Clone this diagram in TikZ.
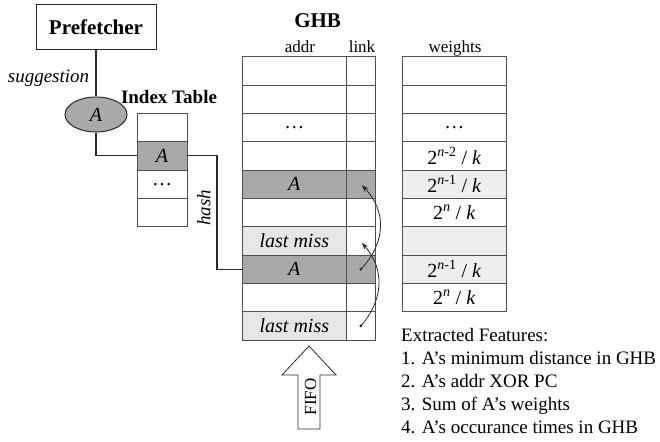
\documentclass[tikz,border=0pt]{standalone}
\usepackage{fontspec}
\setmainfont{Liberation Serif}
\usetikzlibrary{arrows.meta,shapes.geometric}
\definecolor{tabline}{HTML}{505050}
\definecolor{conline}{HTML}{2A2A2A}
\definecolor{darkcell}{HTML}{A9A9A9}
\definecolor{lightcell}{HTML}{E6E6E6}
\definecolor{wlightcell}{HTML}{EEEEEE}
\newcommand\myrowfont{\fontsize{20}{24}\selectfont}
\newcommand\mywfont{\fontsize{20}{24}\selectfont}
\newcommand\myhdfont{\fontsize{17}{20}\selectfont}
\newcommand\mytxtfont{\fontsize{19}{23}\selectfont}
\newcommand\mybigfont{\fontsize{21}{25}\selectfont\bfseries}
\newcommand\wfrac[1]{2\textsuperscript{#1}~/~\textit{k}}
\begin{document}
\begin{tikzpicture}[x=1pt,y=-1pt,
  cell/.style={draw=tabline, line width=0.9pt, minimum height=28.33pt, inner sep=0pt, outer sep=0pt, anchor=center},
  addrcell/.style={cell, minimum width=103.3pt, font=\myrowfont\itshape},
  linkcell/.style={cell, minimum width=29.7pt},
  wcell/.style={cell, minimum width=103.3pt, font=\mywfont},
  idxcell/.style={cell, minimum width=50pt, font=\myrowfont\itshape},
  dark/.style={fill=darkcell},
  light/.style={fill=lightcell},
  wlight/.style={fill=wlightcell},
  conn/.style={draw=conline, line width=1.1pt},
  linkarrow/.style={draw=conline, line width=0.8pt, -{Stealth[length=7pt,width=5pt]}},
  title/.style={font=\mybigfont, inner sep=0pt, anchor=base},
  hdr/.style={font=\myhdfont, inner sep=0pt, anchor=base},
]
\useasboundingbox (0,0) rectangle (660,441);

% Prefetcher and suggestion
\node[draw=conline, line width=1pt, minimum width=120pt, minimum height=45pt, inner sep=0pt, font=\mybigfont] (pref) at (96,27) {Prefetcher};
\node[font=\mytxtfont\itshape, inner sep=0pt, anchor=base] (sugglbl) at (48.5,83) {suggestion};
\node[ellipse, draw=conline, line width=1pt, fill=darkcell, minimum width=62pt, minimum height=35pt, inner sep=0pt, font=\myrowfont\itshape] (sugg) at (96,114.5) {A};

% Index table
\node[title, font=\fontsize{19}{23}\selectfont\bfseries] (idxtitle) at (169,103) {Index Table};
\node[idxcell] (idx1) at (162,127.51) {};
\node[idxcell, dark] (idx2) at (162,155.84) {A};
\node[idxcell, font=\myrowfont] (idx3) at (162,184.17) {\dots};
\node[idxcell] (idx4) at (162,212.50) {};

% GHB
\node[title] (ghbtitle) at (317.6,27.5) {GHB};
\node[hdr] (addrlbl) at (300,53) {addr};
\node[hdr] (linklbl) at (362,53) {link};
\node[hdr] (wlbl) at (455,53) {weights};

\node[addrcell] (a1) at (294.35,70.85) {};
\node[addrcell] (a2) at (294.35,99.18) {};
\node[addrcell, font=\myrowfont] (a3) at (294.35,127.51) {\dots};
\node[addrcell] (a4) at (294.35,155.84) {};
\node[addrcell, dark] (a5) at (294.35,184.17) {A};
\node[addrcell] (a6) at (294.35,212.50) {};
\node[addrcell, light] (a7) at (294.35,240.83) {last miss};
\node[addrcell, dark] (a8) at (294.35,269.16) {A};
\node[addrcell] (a9) at (294.35,297.49) {};
\node[addrcell, light] (a10) at (294.35,325.82) {last miss};

\node[linkcell] (l1) at (360.85,70.85) {};
\node[linkcell] (l2) at (360.85,99.18) {};
\node[linkcell] (l3) at (360.85,127.51) {};
\node[linkcell] (l4) at (360.85,155.84) {};
\node[linkcell, dark] (l5) at (360.85,184.17) {};
\node[linkcell] (l6) at (360.85,212.50) {};
\node[linkcell] (l7) at (360.85,240.83) {};
\node[linkcell, dark] (l8) at (360.85,269.16) {};
\node[linkcell] (l9) at (360.85,297.49) {};
\node[linkcell] (l10) at (360.85,325.82) {};

% weights
\node[wcell] (w1) at (454.35,70.85) {};
\node[wcell] (w2) at (454.35,99.18) {};
\node[wcell] (w3) at (454.35,127.51) {\dots};
\node[wcell] (w4) at (454.35,155.84) {\wfrac{\textit{n}-2}};
\node[wcell, wlight] (w5) at (454.35,184.17) {\wfrac{\textit{n}-1}};
\node[wcell] (w6) at (454.35,212.50) {\wfrac{\textit{n}}};
\node[wcell, wlight] (w7) at (454.35,240.83) {};
\node[wcell, wlight] (w8) at (454.35,269.16) {\wfrac{\textit{n}-1}};
\node[wcell] (w9) at (454.35,297.49) {\wfrac{\textit{n}}};

% connectors
\draw[conn] (pref.south) -- (sugg.north);
\draw[conn] (sugg.south) |- (idx2.west);
\coordinate (hashx) at (217,155.84);
\draw[conn] (idx2.east) -- (hashx) |- (a8.west);
\node[rotate=90, font=\mytxtfont\itshape, inner sep=0pt] (hashlbl) at (204,208) {hash};

% link arrows
\fill[conline] (l8.center) circle (1.6);
\draw[linkarrow] (l8.center) .. controls +(25,-26) and +(25,26) .. ([xshift=1pt,yshift=-1pt]l5.center);
\fill[conline] (l10.center) circle (1.6);
\draw[linkarrow] (l10.center) .. controls +(23,-26) and +(23,26) .. ([xshift=1pt,yshift=-2pt]l7.center);

% FIFO arrow
\draw[draw=conline, line width=0.8pt] (309,346) -- (336,375) -- (320,375) -- (320,429) -- (298,429) -- (298,375) -- (282,375) -- cycle;
\node[rotate=90, font=\fontsize{17}{20}\selectfont, inner sep=0pt] (fifo) at (310.5,397) {FIFO};

% features
\node[font=\mytxtfont, inner sep=0pt, anchor=base west] (f0) at (401,341) {Extracted Features:};
\node[font=\mytxtfont, inner sep=0pt, anchor=base west] (f1) at (401,364) {1. A's minimum distance in GHB};
\node[font=\mytxtfont, inner sep=0pt, anchor=base west] (f2) at (401,387) {2. A's addr XOR PC};
\node[font=\mytxtfont, inner sep=0pt, anchor=base west] (f3) at (401,410) {3. Sum of A's weights};
\node[font=\mytxtfont, inner sep=0pt, anchor=base west] (f4) at (401,433) {4. A's occurance times in GHB};
\end{tikzpicture}
\end{document}
